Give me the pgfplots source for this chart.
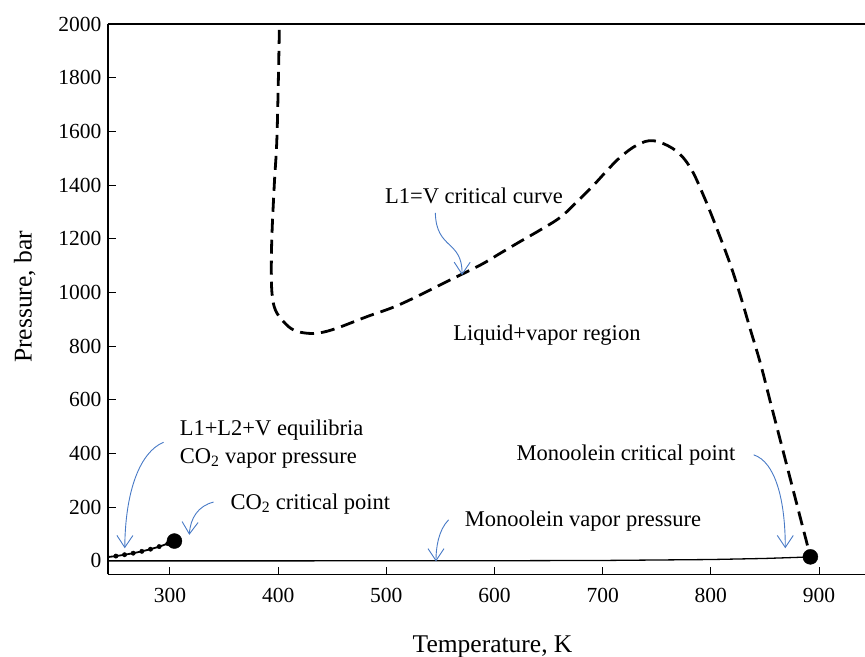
\documentclass[border=0pt]{standalone}
\usepackage{fontspec}
\setmainfont{Liberation Serif}
\usepackage{pgfplots}
\pgfplotsset{compat=1.18}
\usetikzlibrary{arrows.meta}
\definecolor{arrowblue}{RGB}{72,122,198}

\begin{document}
\begin{tikzpicture}
\begin{axis}[
  scale only axis, width=757pt, height=550.3pt,
  xmin=242.7, xmax=942.5, ymin=-50, ymax=2000,
  axis x line*=box, axis y line*=left,
  xtick={300,400,500,600,700,800,900},
  ytick={0,200,400,600,800,1000,1200,1400,1600,1800,2000},
  xtick pos=left,
  tick align=inside, major tick length=7.7pt,
  every tick/.style={black, line width=1pt},
  axis line style={line width=1.5pt, black},
  /pgf/number format/assume math mode=true,
  /pgf/number format/1000 sep={},
  tick label style={font=\fontsize{21.5}{24}\selectfont},
  yticklabel style={xshift=-3pt},
  xticklabel style={yshift=-10pt},
  xlabel={Temperature, K},
  ylabel={Pressure, bar},
  xlabel style={font=\fontsize{25.5}{28}\selectfont, at={(axis description cs:0.508,0)}, anchor=base, yshift=-78.7pt},
  ylabel style={font=\fontsize{25.5}{28}\selectfont, at={(axis description cs:0,0.504)}, anchor=base, yshift=76.3pt},
  clip=false,
]
% L1=V critical curve
\addplot[black, line width=2.8pt, dash pattern=on 14pt off 7pt, smooth, tension=0.6] coordinates {
 (401.1,1978) (399,1593) (396.5,1407) (394.3,1220) (393.7,1096) (394.3,997)
 (397.4,935) (405,891) (414.3,860) (426.7,848) (439,850) (454.4,867)
 (482.2,910) (513,956) (559.2,1047) (586.9,1102) (605.4,1146) (623.9,1190)
 (642.4,1233) (660.9,1280) (676.3,1338) (691.7,1400) (704,1454) (716.3,1504)
 (731.8,1549) (747.1,1565) (767,1530) (781,1465) (793.3,1360) (805.7,1236)
 (818,1104) (827.3,988) (836.5,862) (845.8,736) (855,592) (867.3,401)
 (882.8,159) (892,16)
};
% Monoolein vapor pressure
\addplot[black, line width=1.3pt] coordinates {
 (242.7,0) (400,0) (600,0.5) (700,1.5) (800,5) (850,9) (880,13) (892,15)
};
% CO2 vapor pressure
\addplot[black, line width=1.8pt, smooth] coordinates {
 (242.7,14.3) (250,17.9) (258,22.9) (266,28.7) (274,35.5) (282,43.6) (290,53.2) (298,64.3) (304.1,73.8)
};
\addplot[black, only marks, mark=*, mark size=2.2pt] coordinates {
 (250,17.9) (258,22.9) (266,28.7) (274,35.5) (282,43.6) (290,53.2) (298,64.3)
};
% critical points
\addplot[black, only marks, mark=*, mark size=7.5pt] coordinates {
 (304.1,73.8) (892,15)
};

% annotations
\begin{scope}[every node/.style={font=\fontsize{22.5}{26}\selectfont, inner sep=0pt}]
\node[anchor=center] at (axis cs:581,1359) {L1=V critical curve};
\node[anchor=center] at (axis cs:648.5,842) {Liquid+vapor region};
\node[anchor=west] at (axis cs:308.9,488) {L1+L2+V equilibria};
\node[anchor=west] at (axis cs:308.9,382.5) {CO\textsubscript{2} vapor pressure};
\node[anchor=west] at (axis cs:355.8,212) {CO\textsubscript{2} critical point};
\node[anchor=west] at (axis cs:572.4,149) {Monoolein vapor pressure};
\node[anchor=west] at (axis cs:620.2,395) {Monoolein critical point};
\end{scope}

\begin{scope}[arrowblue, line width=0.9pt, -{Straight Barb[length=12pt,width=16pt,line width=0.9pt]}]
\draw (axis cs:545.3,1296) .. controls (axis cs:546.2,1158) and (axis cs:570.3,1196) .. (axis cs:570,1065);
\draw (axis cs:294.1,442) .. controls (axis cs:272.6,406) and (axis cs:258.7,264) .. (axis cs:258.2,47);
\draw (axis cs:340.3,219) .. controls (axis cs:326.2,205) and (axis cs:318.8,160) .. (axis cs:317.9,97);
\draw (axis cs:557.6,153) .. controls (axis cs:548.1,115) and (axis cs:545.9,48) .. (axis cs:545.9,-2);
\draw (axis cs:839.6,395) .. controls (axis cs:859.6,369) and (axis cs:868.8,227) .. (axis cs:868.8,47);
\end{scope}
\end{axis}
\pgfresetboundingbox
\path[use as bounding box] ([shift={(-108pt,-82.7pt)}]current axis.south west) rectangle ([shift={(0pt,24pt)}]current axis.north east);
\end{tikzpicture}
\end{document}
